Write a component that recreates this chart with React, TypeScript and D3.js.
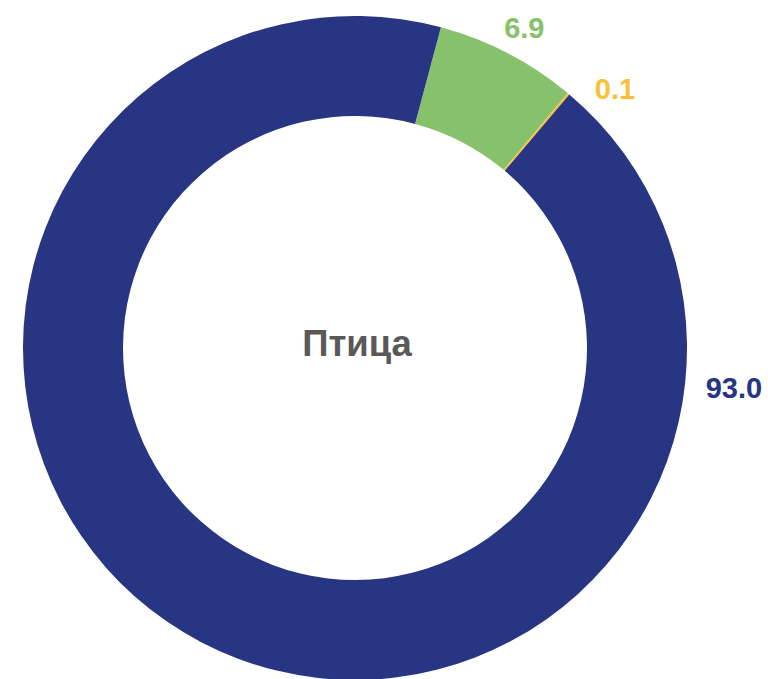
import React from "react";
import * as d3 from "d3";

const categories = ["A", "B", "C"];
const values = [6.9, 0.1, 93.0];
const colors = ["#88c16c", "#fbbf3a", "#283583"];
const labelAngles = [25, 42.8, 96.5];
const centerTitle = "Птица";

export default function App() {
  const width = 768;
  const height = 679;
  const cx = 355;
  const cy = 348;
  const outerR = 332;
  const innerR = 232;
  const labelR = 353;
  const start = (15 * Math.PI) / 180;

  const pie = d3
    .pie<number>()
    .sort(null)
    .value((d) => d)
    .startAngle(start)
    .endAngle(start + 2 * Math.PI);
  const arcs = pie(values);
  const arc = d3.arc<d3.PieArcDatum<number>>().innerRadius(innerR).outerRadius(outerR);

  return (
    <svg
      width={width}
      height={height}
      style={{ position: "absolute", left: 0, top: 0 }}
      fontFamily="'Liberation Sans', Arial, sans-serif"
    >
      <g transform={`translate(${cx},${cy})`}>
        {arcs.map((a, i) => (
          <path key={categories[i]} d={arc(a) || ""} fill={colors[i]} />
        ))}
        {arcs.map((a, i) => {
          const ang = (labelAngles[i] * Math.PI) / 180;
          const x = labelR * Math.sin(ang);
          const y = -labelR * Math.cos(ang);
          return (
            <text
              key={"l" + i}
              x={x}
              y={y}
              textAnchor="start"
              dominantBaseline="central"
              fontSize={29}
              fontWeight="bold"
              fill={colors[i]}
            >
              {values[i].toFixed(1)}
            </text>
          );
        })}
        <text
          x={2}
          y={-5}
          textAnchor="middle"
          dominantBaseline="central"
          fontSize={36.5}
          fontWeight="bold"
          fill="#595959"
        >
          {centerTitle}
        </text>
      </g>
    </svg>
  );
}
